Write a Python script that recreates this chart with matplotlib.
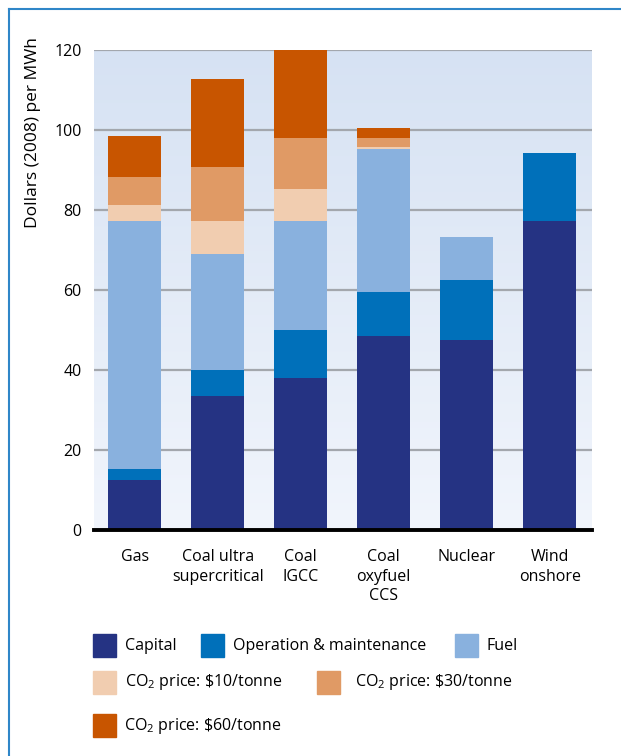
import matplotlib.pyplot as plt
import matplotlib.patches as patches
import numpy as np

plt.rcParams['font.family'] = ['Open Sans', 'DejaVu Sans']
plt.rcParams['mathtext.fontset'] = 'custom'
plt.rcParams['mathtext.rm'] = 'Open Sans'

# Levelised cost components, dollars (2008) per MWh
technologies = ['Gas', 'Coal ultra\nsupercritical', 'Coal\nIGCC',
                'Coal\noxyfuel\nCCS', 'Nuclear', 'Wind\nonshore']
capital = [12.4, 33.5, 38.0, 48.5, 47.5, 77.1]
operation = [2.8, 6.5, 12.0, 11.0, 15.0, 17.0]
fuel = [62.1, 29.0, 27.1, 35.6, 10.6, 0.0]
co2_10 = [3.8, 8.1, 8.0, 0.5, 0.0, 0.0]
co2_30 = [7.0, 13.5, 13.0, 2.5, 0.0, 0.0]
co2_60 = [10.5, 22.1, 22.0, 2.5, 0.0, 0.0]

series = [capital, operation, fuel, co2_10, co2_30, co2_60]
series_labels = ['Capital', 'Operation & maintenance', 'Fuel',
                 r'CO$_\mathrm{2}$ price: \$10/tonne',
                 r'CO$_\mathrm{2}$ price: \$30/tonne',
                 r'CO$_\mathrm{2}$ price: \$60/tonne']
COLORS = ['#253383', '#0070BA', '#89B1DE', '#F1CDB0', '#E09A65', '#C85500']

W, H = 621, 756
fig = plt.figure(figsize=(W / 100, H / 100), dpi=100)

# axes placed in pixel terms
left, right, top, bottom = 94, 592, 50, 529.5
ax = fig.add_axes([left / W, (H - bottom) / H, (right - left) / W, (bottom - top) / H])
ax.set_xlim(-0.49, 5.51)
ax.set_ylim(0, 120)

# gradient background
grad = np.linspace(0, 1, 256).reshape(-1, 1)
top_c = np.array([214, 226, 243]) / 255
bot_c = np.array([241, 245, 252]) / 255
img = top_c * (1 - grad[..., None]) + bot_c * grad[..., None]
ax.imshow(img, extent=[-0.49, 5.51, 0, 120], aspect='auto', zorder=0, origin='upper')

for y in range(20, 121, 20):
    ax.axhline(y, color='#A3A7AD', lw=1.6, zorder=1)

x = np.arange(len(technologies))
base = np.zeros(len(technologies))
for vals, col in zip(series, COLORS):
    ax.bar(x, vals, bottom=base, width=0.64, color=col, zorder=2, linewidth=0)
    base += np.array(vals)

ax.axhline(0, color='black', lw=2.8, zorder=3, clip_on=False)

for s in ax.spines.values():
    s.set_visible(False)
ax.set_yticks(range(0, 121, 20))
ax.tick_params(axis='y', length=0, pad=9, labelsize=11.5)
ax.set_xticks(x)
ax.set_xticklabels(technologies, fontsize=11.5, linespacing=1.3)
ax.tick_params(axis='x', length=0, pad=14)

fig.text(33 / W, 1 - 133 / H, 'Dollars (2008) per MWh', rotation=90,
         ha='center', va='center', fontsize=12.5)

# legend built by hand
sw = 23
legend_items = [
    (0, 93, 634, 125), (1, 201, 634, 233), (2, 455, 634, 486),
    (3, 93, 671, 125), (4, 317, 671, 355),
    (5, 93, 714, 124),
]
for idx, sx, sy, tx in legend_items:
    fig.patches.append(patches.Rectangle((sx / W, 1 - (sy + sw) / H), sw / W, sw / H,
                                         transform=fig.transFigure, color=COLORS[idx]))
    fig.text(tx / W, 1 - (sy + sw / 2) / H, series_labels[idx],
             ha='left', va='center', fontsize=11.5)

# blue frame (left and top edges)
frame_col = '#2F86C8'
fig.add_artist(plt.Line2D([8.5 / W, 8.5 / W], [0, 1 - 9 / H], color=frame_col,
                          lw=1.5, transform=fig.transFigure))
fig.add_artist(plt.Line2D([8.5 / W, 1], [1 - 9 / H, 1 - 9 / H], color=frame_col,
                          lw=1.5, transform=fig.transFigure))

fig.savefig('out.png', dpi=100)
